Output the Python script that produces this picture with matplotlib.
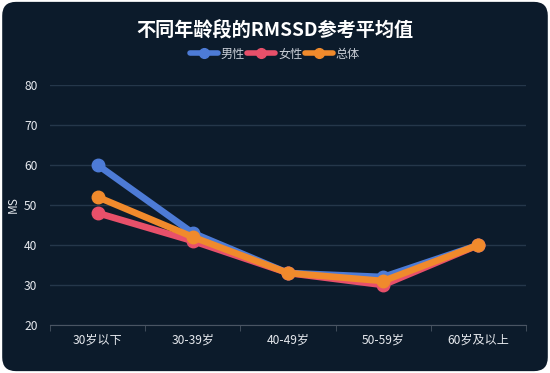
import matplotlib
matplotlib.use('Agg')
import matplotlib.pyplot as plt
from matplotlib.patches import FancyBboxPatch

plt.rcParams['font.family'] = ['Noto Sans CJK SC', 'DejaVu Sans']

# 数据
age_groups = ['30岁以下', '30-39岁', '40-49岁', '50-59岁', '60岁及以上']
male = [60, 43, 33, 32, 40]
female = [48, 41, 33, 30, 40]
total = [52, 42, 33, 31, 40]
series_names = ['男性', '女性', '总体']
series_colors = ['#4d7bd6', '#e8506a', '#f08a2c']

bg = '#0c1b2b'
fig = plt.figure(figsize=(5.5, 3.73), dpi=100)
fig.patch.set_facecolor('white')
card = FancyBboxPatch((0.004, 0.005), 0.992, 0.99, boxstyle='round,pad=0,rounding_size=0.025',
                      transform=fig.transFigure, facecolor=bg, edgecolor='none',
                      mutation_aspect=550 / 373, zorder=-10)
fig.patches.append(card)

ax = fig.add_axes([50 / 550, 48 / 373, 476 / 550, 240 / 373])
ax.set_facecolor('none')

x = list(range(len(age_groups)))
for vals, name, c in zip([male, female, total], series_names, series_colors):
    ax.plot(x, vals, color=c, linewidth=4.8, marker='o', markersize=9,
            solid_capstyle='round', label=name, clip_on=False)

ax.set_xlim(-0.5, len(age_groups) - 0.5)
ax.set_ylim(20, 80)
ax.set_yticks(range(20, 81, 10))
ax.set_xticks(x)
ax.set_xticklabels(age_groups)
ax.set_xticks([i - 0.5 for i in range(len(age_groups) + 1)], minor=True)
ax.tick_params(axis='x', which='major', length=0, colors='#e6e9ee', labelsize=8.7, pad=6)
ax.tick_params(axis='x', which='minor', length=4, color='#4a5563', direction='out')
ax.tick_params(axis='y', length=0, colors='#e6e9ee', labelsize=8.7, pad=9)
ax.grid(axis='y', color='#25374a', linewidth=1)
ax.set_axisbelow(True)
for s in ['top', 'right', 'left']:
    ax.spines[s].set_visible(False)
ax.spines['bottom'].set_color('#4a5563')
ax.set_ylabel('MS', color='#e6e9ee', fontsize=8.5, labelpad=3)

fig.text(0.5, 0.918, '不同年龄段的RMSSD参考平均值', ha='center', va='center',
         color='white', fontsize=13.8, fontweight='heavy')
leg = fig.legend(loc='center', bbox_to_anchor=(0.5, 0.855), ncol=3, frameon=False,
                 fontsize=8.7, handlelength=2.3, handletextpad=0.25, columnspacing=0.2,
                 labelcolor='#c9ced6')
for h in leg.legend_handles:
    h.set_markersize(7)
    h.set_linewidth(4)

fig.savefig('out.png', dpi=100, facecolor=fig.get_facecolor())
